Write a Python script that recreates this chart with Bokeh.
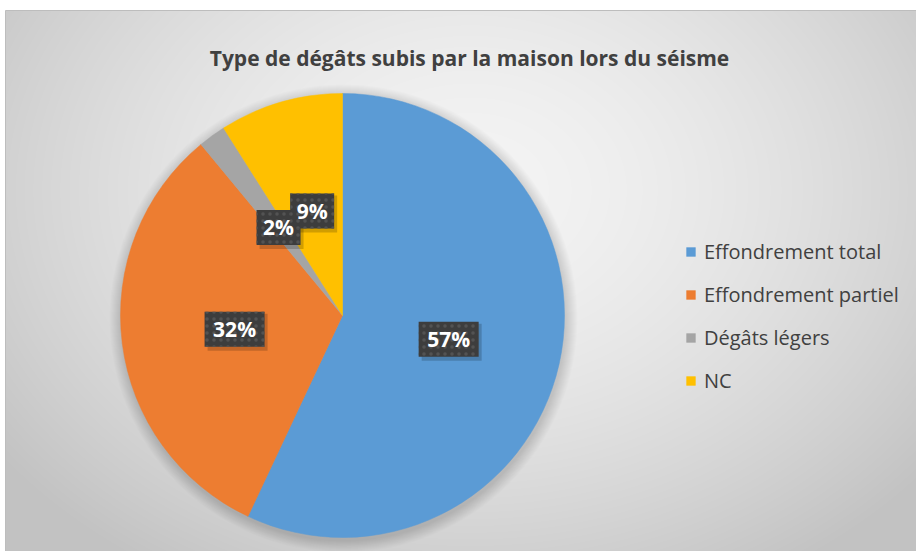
import numpy as np
from bokeh.plotting import figure
from bokeh.models import Range1d, ColumnDataSource, Legend, LegendItem
from bokeh.core.properties import value
from bokeh.embed import file_html
from bokeh.resources import INLINE

# ---- data ----
title_text = "Type de dégâts subis par la maison lors du séisme"
categories = ["Effondrement total", "Effondrement partiel", "Dégâts légers", "NC"]
shares = [57, 32, 2, 9]
colors = ["#5B9BD5", "#ED7D31", "#A5A5A5", "#FFC000"]

# ---- layout ----
W, H = 916, 551
OY = H                    # screen -> data: x = sx, y = OY - sy
cx, cy, R = 342, OY - 315, 222
FONT = value("Open Sans")

p = figure(width=W, height=H, x_range=Range1d(0, W), y_range=Range1d(0, H),
           output_backend="svg", toolbar_location=None, min_border=0)
p.axis.visible = False
p.grid.visible = False
p.outline_line_color = None
p.background_fill_color = "white"
p.border_fill_color = "white"

# ---- background gradient panel ----
left, top = 5, OY - 10
pw, ph = W - left, int(top)
jj = np.arange(pw) + 0.5 + left
ii = OY - (np.arange(ph) + 0.5)
X, Y = np.meshgrid(jj, ii)
d = np.sqrt(((X - 470) / 560.0) ** 2 + ((Y - 190) / 430.0) ** 2)
v = (244 - 46 * np.clip(d, 0, 1.05) ** 1.6).astype(np.uint32)
img = (255 << 24) | (v << 16) | (v << 8) | v
p.image_rgba(image=[img.astype(np.uint32)], x=left, y=0, dw=pw, dh=ph)
p.segment(x0=[left, left], y0=[top, top], x1=[W, left], y1=[top, 0],
          line_color="#bdbdbd", line_width=1)

# ---- pie shadow ----
for k in range(12):
    p.circle(x=cx + 1, y=cy - 3, radius=R + 1 + k, fill_color="black",
             fill_alpha=0.013, line_color=None)

# ---- pie ----
fr = np.array(shares, dtype=float) / sum(shares)
cum = np.cumsum(fr)
prev = np.concatenate([[0], cum[:-1]])
start = np.pi / 2 - 2 * np.pi * cum
end = np.pi / 2 - 2 * np.pi * prev
mid = (start + end) / 2
labels = [f"{s}%" for s in shares]
src = ColumnDataSource(dict(start=start, end=end, color=colors, cat=categories))
wr = p.wedge(x=cx, y=cy, radius=R, start_angle="start", end_angle="end",
             fill_color="color", line_color="color", line_width=0.5, source=src)

# ---- data labels ----
lx = cx + 0.49 * R * np.cos(mid)
ly = cy + 0.49 * R * np.sin(mid)
bw = [12 + 16 * len(t) for t in labels]
lsrc = ColumnDataSource(dict(x=lx, y=ly, sx=lx + 3, sy=ly - 3, w=bw, t=labels))
p.rect(x="sx", y="sy", width="w", height=37, width_units="screen", height_units="screen",
       source=lsrc, fill_color="black", fill_alpha=0.18, line_color=None)
p.rect(x="x", y="y", width="w", height=35, width_units="screen", height_units="screen",
       source=lsrc, fill_color="#3d3d3d", line_color=None,
       hatch_pattern="dot", hatch_color="#535353", hatch_scale=7, hatch_weight=1.2)
p.text(x="x", y="y", text="t", source=lsrc, text_align="center", text_baseline="middle",
       text_font=FONT, text_font_style="bold", text_font_size="21px", text_color="white")

# ---- title ----
p.text(x=[469], y=[OY - 57], text=[title_text], text_align="center",
       text_baseline="alphabetic", text_font=FONT, text_font_style="bold",
       text_font_size="21px", text_color="#404040")

# ---- legend ----
items = [LegendItem(label=c, renderers=[wr], index=i) for i, c in enumerate(categories)]
legend = Legend(items=items, location=(685, 157), orientation="vertical",
                glyph_width=11, glyph_height=11, label_standoff=8,
                label_text_font="Open Sans", label_text_font_size="20px",
                label_text_color="#404040", label_height=24, spacing=16,
                padding=0, margin=0, background_fill_alpha=0, border_line_alpha=0)
p.add_layout(legend)

open("out.html", "w").write(file_html(p, INLINE))
